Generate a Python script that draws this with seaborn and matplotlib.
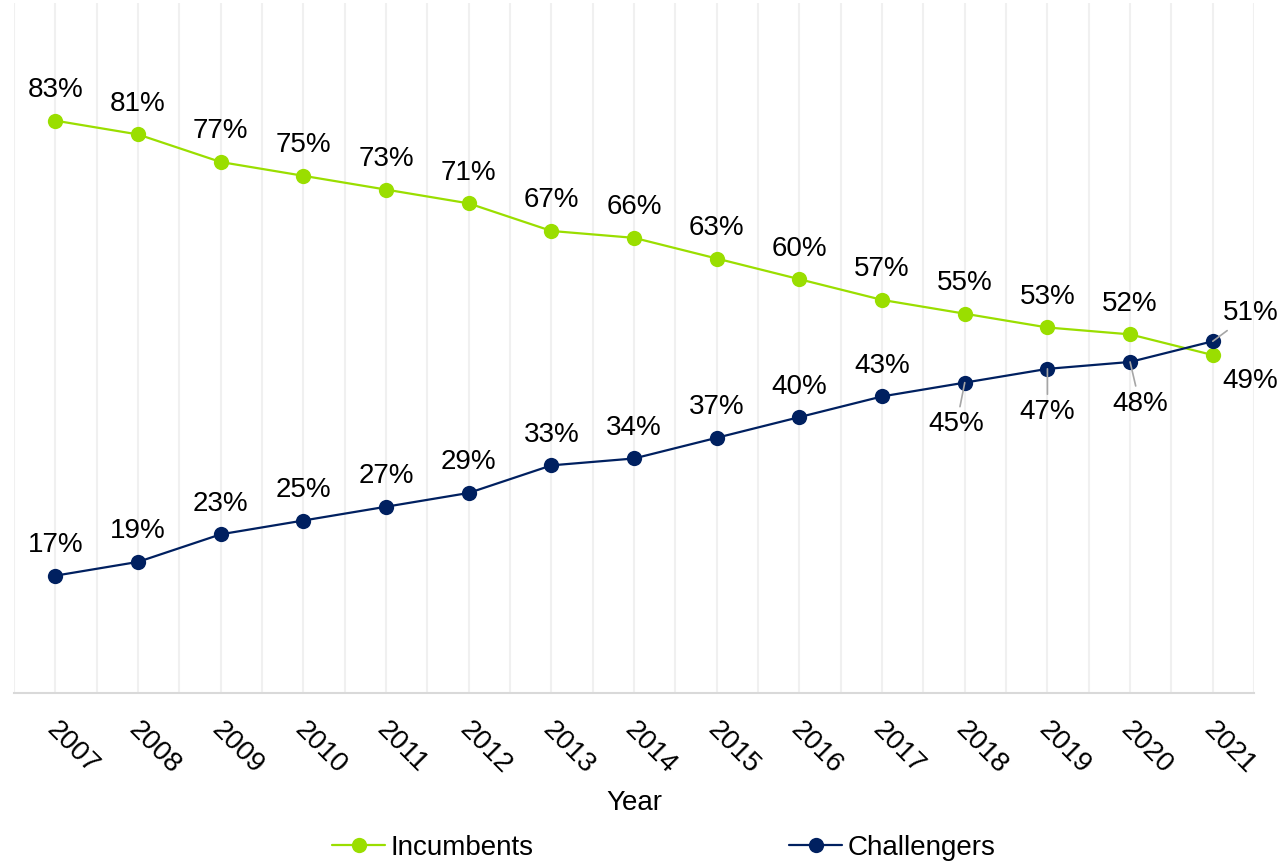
import pandas as pd
import matplotlib.pyplot as plt
import seaborn as sns

years = [2007, 2008, 2009, 2010, 2011, 2012, 2013, 2014, 2015, 2016, 2017, 2018, 2019, 2020, 2021]
incumbents = [83, 81, 77, 75, 73, 71, 67, 66, 63, 60, 57, 55, 53, 52, 49]
challengers = [17, 19, 23, 25, 27, 29, 33, 34, 37, 40, 43, 45, 47, 48, 51]

sns.set_style('white')
plt.rcParams['font.family'] = ['Liberation Sans', 'DejaVu Sans']
plt.rcParams['text.color'] = 'black'

df = pd.DataFrame({
    'pos': list(range(len(years))) * 2,
    'value': incumbents + challengers,
    'Series': ['Incumbents'] * len(years) + ['Challengers'] * len(years),
})

green = '#9ADE00'
navy = '#002060'
fs = 20

fig = plt.figure(figsize=(12.81, 8.65), dpi=100)
ax = fig.add_axes([0.011, 0.199, 0.968, 0.797])

sns.lineplot(data=df, x='pos', y='value', hue='Series', palette=[green, navy],
             marker='o', markersize=11, markeredgewidth=0, linewidth=1.6, ax=ax)

ax.set_xlim(-0.5, len(years) - 0.5)
ax.set_ylim(0, 100)
ax.set_yticks([])
ax.set_ylabel('')
ax.set_xlabel('')
ax.set_xticks([i * 0.5 - 0.5 for i in range(2 * len(years) + 1)])
ax.set_xticklabels([])
ax.grid(axis='x', color='#F0F0F0', linewidth=1.5)
ax.tick_params(axis='x', length=0)
for s in ['top', 'right', 'left']:
    ax.spines[s].set_visible(False)
ax.spines['bottom'].set_color('#D9D9D9')
ax.spines['bottom'].set_linewidth(1.5)

# year labels
for i, y in enumerate(years):
    ax.annotate(str(y), xy=(i, 0), xytext=(3, -17), textcoords='offset points',
                rotation=-45, rotation_mode='anchor', ha='left', va='top',
                fontsize=fs, color='black', annotation_clip=False)

ax.text(0.5, -0.16, 'Year', transform=ax.transAxes, ha='center', va='center',
        fontsize=fs, color='black')

# data labels
for i, v in enumerate(incumbents):
    if years[i] == 2021:
        ax.annotate(f'{v}%', xy=(i, v), xytext=(27, -19), textcoords='offset points',
                    ha='center', va='center', fontsize=fs, color='black')
    else:
        ax.annotate(f'{v}%', xy=(i, v), xytext=(0, 22), textcoords='offset points',
                    ha='center', va='center', fontsize=fs, color='black')

below = {2018: (-6, -30), 2019: (0, -31), 2020: (7, -30)}
for i, v in enumerate(challengers):
    yr = years[i]
    if yr in below:
        ax.annotate(f'{v}%', xy=(i, v), xytext=below[yr], textcoords='offset points',
                    ha='center', va='center', fontsize=fs, color='black',
                    arrowprops=dict(arrowstyle='-', color='#A6A6A6', lw=1.2,
                                    shrinkA=1, shrinkB=0))
    elif yr == 2021:
        ax.annotate(f'{v}%', xy=(i, v), xytext=(27, 20), textcoords='offset points',
                    ha='center', va='center', fontsize=fs, color='black',
                    arrowprops=dict(arrowstyle='-', color='#A6A6A6', lw=1.2,
                                    shrinkA=1, shrinkB=0))
    else:
        ax.annotate(f'{v}%', xy=(i, v), xytext=(0, 22), textcoords='offset points',
                    ha='center', va='center', fontsize=fs, color='black')

handles, labels = ax.get_legend_handles_labels()
leg = ax.legend(handles, labels, loc='center', bbox_to_anchor=(0.524, -0.225), ncol=2,
                frameon=False, fontsize=fs, handlelength=1.9, handletextpad=0.2,
                columnspacing=9.2, markerscale=1.0)
for t in leg.get_texts():
    t.set_color('black')

fig.savefig('out.png', dpi=100)
